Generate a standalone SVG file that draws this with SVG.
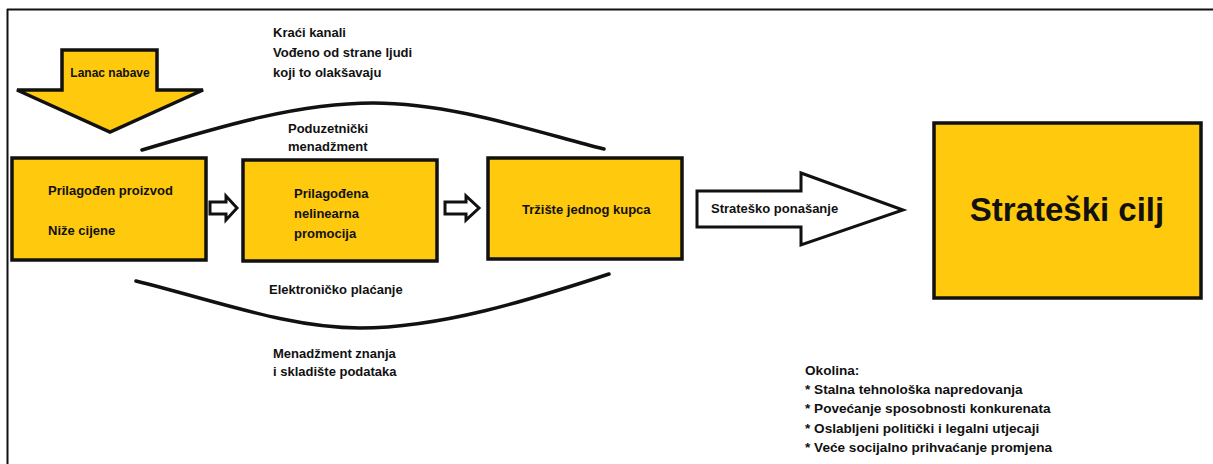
<svg xmlns="http://www.w3.org/2000/svg" width="1213" height="464" viewBox="0 0 1213 464">
<style>
.t{font-family:"Liberation Sans",Arial,sans-serif;font-weight:bold;font-size:13px;fill:#111}
.ok{font-size:13.6px}
.big{font-size:33px}
.sm{font-size:12px}
.box{fill:#FFC90E;stroke:#111;stroke-width:3.5}
.harrow{fill:#fff;stroke:#111;stroke-width:3;stroke-linejoin:miter}
.curve{fill:none;stroke:#111;stroke-width:3.5;stroke-linecap:round}
</style>
<rect width="1213" height="464" fill="#fff"/>
<g id="frame"><path d="M7,9.5 H1213 M7.5,9 V464" fill="none" stroke="#111" stroke-width="2"/></g>

<g id="lanac-nabave">
<polygon points="62,50 157,50 157,90 203,90 110,132 17,90 62,90" fill="#FFC90E" stroke="#111" stroke-width="3.5" stroke-linejoin="miter"/>
<text class="t sm" x="110" y="77" text-anchor="middle">Lanac nabave</text>
</g>

<g id="top-label">
<text class="t" x="273" y="37">Kraći kanali</text>
<text class="t" x="273" y="57">Vođeno od strane ljudi</text>
<text class="t" x="273" y="77">koji to olakšavaju</text>
</g>

<g id="connectors">
<path class="curve" d="M142,150 C225,125 300,103 373,103 C450,103 530,130 604,149"/>
<path class="curve" d="M136,281 C220,302 290,328 360,328 C440,328 530,300 609,274"/>
<polygon class="harrow" points="210,202 226,202 226,196 237,208 226,220 226,214 210,214"/>
<polygon class="harrow" points="445,202 466,202 466,196 479,208 466,220 466,214 445,214"/>
</g>

<g id="poduzetnicki">
<text class="t" x="288" y="133">Poduzetnički</text>
<text class="t" x="288" y="151">menadžment</text>
</g>

<g id="box1">
<rect class="box" x="12" y="158" width="194" height="102"/>
<text class="t" x="48" y="195">Prilagođen proizvod</text>
<text class="t" x="48" y="235">Niže cijene</text>
</g>

<g id="box2">
<rect class="box" x="243" y="160" width="194" height="101"/>
<text class="t" x="294" y="198">Prilagođena</text>
<text class="t" x="294" y="218">nelinearna</text>
<text class="t" x="294" y="238">promocija</text>
</g>

<g id="box3">
<rect class="box" x="488" y="158" width="194" height="101"/>
<text class="t" x="522" y="214">Tržište jednog kupca</text>
</g>

<g id="strat-arrow">
<polygon class="harrow" points="697,191 801,191 801,173 903,210 801,245 801,227 697,227"/>
<text class="t" x="711" y="213">Strateško ponašanje</text>
</g>

<g id="strateski-cilj">
<rect class="box" x="934" y="123" width="267" height="175"/>
<text class="t big" x="1067" y="221" text-anchor="middle">Strateški cilj</text>
</g>

<g id="bottom-labels">
<text class="t" x="269" y="294">Elektroničko plaćanje</text>
<text class="t" x="273" y="358">Menadžment znanja</text>
<text class="t" x="273" y="376">i skladište podataka</text>
</g>

<g id="okolina">
<text class="t ok" x="805" y="375">Okolina:</text>
<text class="t ok" x="805" y="394">* Stalna tehnološka napredovanja</text>
<text class="t ok" x="805" y="413">* Povećanje sposobnosti konkurenata</text>
<text class="t ok" x="805" y="433">* Oslabljeni politički i legalni utjecaji</text>
<text class="t ok" x="805" y="452">* Veće socijalno prihvaćanje promjena</text>
</g>
</svg>
